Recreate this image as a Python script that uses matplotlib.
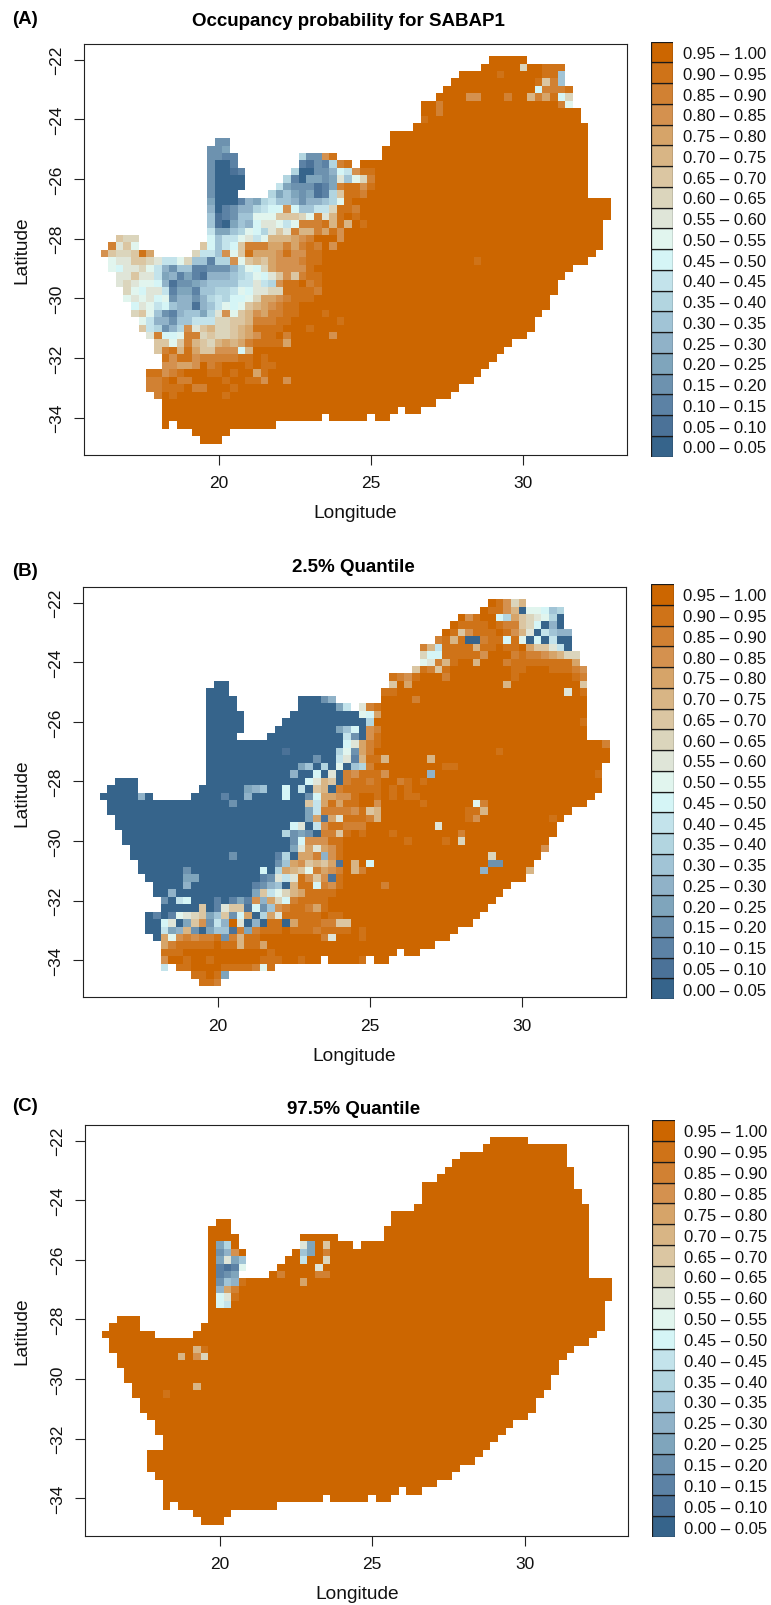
#!/usr/bin/env python3
"""Occupancy probability maps (mean, 2.5% and 97.5% quantile) on a quarter degree grid."""

import numpy as np
import matplotlib
matplotlib.use('Agg')
import matplotlib.pyplot as plt
from matplotlib.colors import ListedColormap

plt.rcParams['font.family'] = ['Liberation Sans', 'DejaVu Sans']

W, H = 771, 1606

LEGEND_LABELS = ['0.00 – 0.05', '0.05 – 0.10', '0.10 – 0.15', '0.15 – 0.20', '0.20 – 0.25',
                 '0.25 – 0.30', '0.30 – 0.35', '0.35 – 0.40', '0.40 – 0.45', '0.45 – 0.50',
                 '0.50 – 0.55', '0.55 – 0.60', '0.60 – 0.65', '0.65 – 0.70', '0.70 – 0.75',
                 '0.75 – 0.80', '0.80 – 0.85', '0.85 – 0.90', '0.90 – 0.95', '0.95 – 1.00']
LEGEND_COLORS = ['#36648B', '#4B7298', '#5C82A5', '#6D92AF', '#7FA5BC', '#90B2C8', '#A1C4D6',
                 '#B2D5E0', '#C3E3EB', '#D5F5F6', '#E1F5EE', '#DFE5D8', '#DBD5BC', '#DBC6A2',
                 '#D8B585', '#D6A469', '#D4914F', '#D18133', '#CF7318', '#CC6600']

# one character per probability class, in the legend order
LEVEL_CHARS = '0123456789abcdefghij'

LON_FIRST_EDGE = 16.125
LAT_FIRST_EDGE = -21.875
CELL = 0.25

# occupied columns per grid row, north to south
ROW_SPANS = [
    [(51, 55)], [(50, 60)], [(47, 60)], [(46, 60)], [(45, 61)], [(44, 61)], [(42, 61)],
    [(42, 62)], [(42, 62)], [(41, 63)], [(38, 63)], [(15, 16), (38, 63)],
    [(14, 16), (37, 63)], [(14, 17), (26, 30), (37, 63)], [(14, 17), (26, 32), (34, 63)],
    [(14, 18), (25, 63)], [(14, 18), (24, 63)], [(14, 18), (23, 63)], [(14, 17), (22, 63)],
    [(14, 66)], [(14, 66)], [(14, 66)], [(14, 65)], [(14, 65)], [(2, 4), (14, 65)],
    [(1, 4), (13, 65)], [(0, 6), (12, 64)], [(1, 63)], [(1, 61)], [(2, 60)], [(2, 59)],
    [(3, 59)], [(3, 58)], [(4, 58)], [(4, 57)], [(5, 56)], [(5, 56)], [(6, 55)], [(7, 53)],
    [(7, 52)], [(8, 51)], [(8, 50)], [(6, 49)], [(6, 48)], [(6, 46)], [(7, 45)], [(8, 43)],
    [(8, 38), (40, 41)], [(8, 28), (30, 34), (36, 37)], [(8, 8), (10, 22)], [(12, 16)],
    [(13, 15)],
]

# (row, first column, classes) for cells that are not in the top class
A_CELLS = [
    (1, 55, 'c'), (1, 58, 'iii'), (2, 52, 'i'), (2, 58, 'ii'), (2, 60, '6'), (3, 57, 'idh6'),
    (4, 57, '9hhhi'), (5, 48, 'gg'), (5, 53, 'h'), (5, 56, 'ehfi9c'), (6, 44, 'h'),
    (6, 60, 'ha'), (7, 44, 'h'), (8, 42, 'i'), (27, 49, 'i'),
    (11, 15, '33'), (12, 14, '334'), (13, 14, '3322'), (13, 26, '733gi'),
    (14, 14, '3002'), (14, 26, '21327hi'), (15, 14, '30012'), (15, 25, '70033598gii'),
    (16, 14, '30000'), (16, 24, '7204434b6ach'), (17, 14, '30000'), (17, 23, '84333124hiigi'),
    (18, 14, '3000'), (18, 22, '746434127diih'), (19, 14, '40002547866535567ai'),
    (20, 14, '5023557899g96688ciih'), (21, 14, '612366aaadddcahbeiji'),
    (22, 14, '6104659bba8ahhhieieji'), (23, 14, '844 67a97bdbheehfig'.replace(' ', '')),
    (24, 2, 'dcc'), (24, 14, '9688ab8aeeefghjjjg'), (25, 1, 'hbda'),
    (25, 13, 'd9689dhhhffhfhihjg'), (26, 0, 'gdccdif'), (26, 12, 'c886gadifffgiggii'),
    (27, 1, 'abbddcb88ac66277gadedfggghii'), (28, 1, 'a9bbca853662233357a9cfggggi'),
    (29, 2, 'bbdbb8452421555678a9bdgdhii'), (30, 2, 'bcbaa9513345666688b87giijhi'),
    (31, 3, 'ca9bb8244266778a9bbcciiiih'), (32, 3, 'abab9a3553578799acffghiii'),
    (33, 4, '9ba896551568a9adefghii'), (34, 4, 'cda63256647bgadegfhhii'), (34, 29, 'i'),
    (35, 5, 'a855366888ccddehhhii'), (35, 31, 'i'), (36, 5, 'd87357gbdeccdefiiii'),
    (36, 27, 'i'), (37, 6, 'bh99ahhcdccdefgiijh'), (37, 30, 'g'),
    (38, 7, 'ddadhedcefefhiiiif'), (39, 7, 'dhieifddggg9e'), (40, 8, 'igiighhhhhiiji'),
    (41, 8, 'ggffgjhijjjijii'), (42, 6, 'iighijjjiijijjfi'), (43, 6, 'hhijhhjjjjijjiig'),
    (43, 24, 'g'), (44, 6, 'hhiiijhh'), (44, 17, 'i'), (45, 7, 'h'), (45, 9, 'i'), (45, 16, 'i'),
]

# panel B is class 0 west of this column in each row, top class east of it
B_BLUE_UNTIL = [0, 0, 0, 0, 0, 0, 0, 0, 0, 0, 0, 20, 20, 33, 33, 34, 35, 35, 35, 34, 34, 34, 35,
                32, 32, 31, 29, 28, 28, 28, 29, 29, 27, 27, 26, 25, 24, 23, 25, 21, 20, 20, 24,
                24, 24, 0, 0, 0, 0, 0, 0, 0]
B_CELLS = [
    (0, 52, 'igce'), (1, 51, 'iige0aa967'), (2, 48, 'gi'), (2, 52, '97fdcba70'), (3, 47, 'iiii'),
    (3, 52, 'ihhdc9050'), (4, 46, 'idgiiijigeb08655'), (5, 44, 'hiei00hii9ia090800'),
    (6, 42, 'he8iiiieiijiijfddb80'), (7, 42, 'c99iiiii'), (7, 50, 'g'), (7, 54, 'hihhgfecc'),
    (8, 42, 'abhei'), (8, 49, 'e'), (8, 53, 'hiiiiiiiif'), (9, 41, 'dihdi'), (9, 54, 'ii'),
    (9, 59, 'iiihg'), (10, 38, 'ihgi'), (10, 45, 'h'), (10, 54, 'i'), (10, 62, 'ih'),
    (11, 38, 'd'), (11, 40, 'f'), (11, 53, 'e'), (11, 63, 'd'), (12, 37, 'ii'), (12, 61, 'b'),
    (12, 63, 'i'), (13, 41, 'h'), (13, 29, '35'), (14, 31, '48'), (14, 34, 'bhi'),
    (15, 34, 'a9f'), (16, 35, '7'), (16, 63, 'i'), (17, 31, '4690gh'), (18, 32, '830gi'),
    (19, 32, '9bfhi'), (19, 66, 'h'), (20, 24, '1'), (20, 31, '7a3fh'), (20, 52, 'i'),
    (21, 28, '3'), (21, 31, '8b2eiie'), (21, 43, 'e'), (22, 26, '46070a067h'), (22, 45, 'ii'),
    (23, 25, '50090b0hgiiig'), (23, 43, '5'), (23, 65, 'i'), (24, 27, '9bed0hiihi'),
    (24, 39, 'hi'), (24, 42, 'i'), (25, 19, '456'), (25, 24, '9'), (25, 26, '80de0hiiiiiji'),
    (25, 40, 'i'), (26, 5, '5'), (26, 16, '2'), (26, 19, '5'), (26, 24, '9'),
    (26, 27, '39ffggijjiji'), (26, 40, 'ii'), (27, 17, '3'), (27, 27, 'd8fifiijjg'),
    (27, 42, 'i'), (27, 49, 'ah'), (28, 27, '48hhhhgide'), (28, 48, 'iie'),
    (29, 27, '4f1fbiiihe'), (29, 48, 'ig'), (29, 59, 'i'), (30, 25, '9b08giihhh'), (30, 44, 'b'),
    (31, 24, '73430hhdiji'), (31, 38, 'i'), (31, 47, 'h'), (32, 25, '39gggii'), (32, 40, 'i'),
    (32, 45, 'i'), (32, 47, 'c'), (33, 25, '4bfbfgi'), (33, 58, 'g'), (34, 17, '3'),
    (34, 23, '27'), (34, 26, 'ffh5gi'), (34, 51, 'c'), (35, 23, '36fgdedf1jej9'), (35, 51, '33'),
    (36, 11, '3'), (36, 21, '9'), (36, 23, '7fedahfghjeh'), (36, 50, '5'), (36, 56, 'e'),
    (37, 11, '44'), (37, 21, '23b8bigdg1i'), (38, 11, '5'), (38, 20, '23560eii9hgi'),
    (38, 37, 'h'), (39, 9, '5'), (39, 20, '4d8acefiiii'), (40, 8, '3'), (40, 10, '89'),
    (40, 15, '2'), (40, 17, '242g5fc9hiiii'), (41, 13, 'd'), (41, 15, '2bdd1936ghiihfi'),
    (42, 7, '2'), (42, 9, '2abcd46d39f07fb'), (42, 24, 'iiiii'), (42, 30, 'ii'),
    (43, 8, '9b04dg385jb050ii0fiiihhdd'), (44, 8, '845e304661h4hiiijiiihiiii'), (44, 34, 'i'),
    (45, 7, '0'), (45, 8, 'faghghhi3heii'), (45, 29, 'hb'), (45, 34, 'i'),
    (46, 8, 'fhiiiiijiieiif'), (47, 8, 'iii'), (47, 22, 'i'), (48, 8, 'gjjijji'),
    (48, 21, 'iii'), (48, 26, 'i'), (48, 34, 'i'), (49, 8, '8'), (49, 10, 'iijjjjiiiihai'),
    (50, 12, 'iiji4'), (51, 13, 'iih'),
]

C_CELLS = [
    (14, 15, '47'), (14, 26, 'b4'), (14, 29, 'd'), (15, 15, '35g'), (15, 26, '64'), (15, 29, 'h'),
    (16, 15, '4b46'), (16, 26, '8'), (16, 29, 'c'), (17, 15, '212a'), (17, 28, 'b'),
    (18, 15, '234'), (18, 23, 'h'), (18, 28, 'hh'), (19, 15, '365i'), (19, 26, 'f'),
    (20, 15, '5fh'), (21, 15, '9bi'), (22, 15, '98'), (28, 12, 'ei'), (29, 10, 'e'),
    (29, 12, 'gc'), (33, 12, 'e'), (34, 8, 'i'),
]

PANELS = [
    dict(tag='(A)', title='Occupancy probability for SABAP1', cells=A_CELLS, blue_until=None,
         box=(84.3, 45.3, 627.0, 456.0), tag_y=19, title_x=191.7, title_y=21.7,
         legend=(650.7, 42.7, 673.3, 457.7)),
    dict(tag='(B)', title='2.5% Quantile', cells=B_CELLS, blue_until=B_BLUE_UNTIL,
         box=(83.3, 588.3, 626.0, 998.3), tag_y=571.7, title_x=291.7, title_y=567.7,
         legend=(651.0, 585.0, 673.6, 1000.0)),
    dict(tag='(C)', title='97.5% Quantile', cells=C_CELLS, blue_until=None,
         box=(85.3, 1126.0, 628.3, 1536.7), tag_y=1106.7, title_x=286.7, title_y=1110.0,
         legend=(651.7, 1121.0, 674.7, 1538.0)),
]

X_TICKS = [20, 25, 30]
Y_TICKS = [-22, -24, -26, -28, -30, -32, -34]
XLIM = (15.59, 33.40)
YLIM = (-35.25, -21.48)


def build_grid(cells, blue_until=None):
    n_cols = max(span[1] for row in ROW_SPANS for span in row) + 1
    grid = np.full((len(ROW_SPANS), n_cols), np.nan)
    for r, spans in enumerate(ROW_SPANS):
        for first, last in spans:
            grid[r, first:last + 1] = 19
            if blue_until is not None:
                stop = min(blue_until[r], last + 1)
                if stop > first:
                    grid[r, first:stop] = 0
    for r, c, levels in cells:
        for k, ch in enumerate(levels):
            if not np.isnan(grid[r, c + k]):
                grid[r, c + k] = LEVEL_CHARS.index(ch)
    return grid


def px_rect(left, top, right, bottom):
    return [left / W, 1 - bottom / H, (right - left) / W, (bottom - top) / H]


def draw_legend(fig, left, top, right, bottom):
    ax = fig.add_axes(px_rect(left, top, right, bottom))
    ax.barh(np.arange(20) + 0.5, 1, height=1, color=LEGEND_COLORS, edgecolor='#1a1a1a', linewidth=0.9)
    ax.set_xlim(0, 1)
    ax.set_ylim(0, 20)
    ax.axis('off')
    for i, label in enumerate(LEGEND_LABELS):
        ax.annotate(label, (1, i + 0.5), xytext=(9.4 * 0.72, 0), textcoords='offset points',
                    va='center_baseline', ha='left', fontsize=12, color='#111111',
                    annotation_clip=False)


def draw_panel(fig, panel, cmap):
    ax = fig.add_axes(px_rect(*panel['box']))
    grid = build_grid(panel['cells'], panel['blue_until'])
    lon_edges = LON_FIRST_EDGE + CELL * np.arange(grid.shape[1] + 1)
    lat_edges = LAT_FIRST_EDGE - CELL * np.arange(grid.shape[0] + 1)
    ax.pcolormesh(lon_edges, lat_edges, np.ma.masked_invalid(grid), cmap=cmap,
                  vmin=-0.5, vmax=19.5, antialiased=False, linewidth=0)
    ax.set_xlim(*XLIM)
    ax.set_ylim(*YLIM)
    ax.set_xticks(X_TICKS)
    ax.set_yticks(Y_TICKS)
    ax.tick_params(length=7.2, width=0.8, labelsize=12.5, color='#222222', labelcolor='#111111')
    ax.tick_params(axis='x', pad=7.5)
    ax.tick_params(axis='y', pad=7.5)
    for label in ax.get_yticklabels():
        label.set_rotation(90)
        label.set_va('center')
    for spine in ax.spines.values():
        spine.set_linewidth(0.8)
        spine.set_color('#222222')

    left, top, right, bottom = panel['box']
    fig.text(12 / W, 1 - panel['tag_y'] / H, panel['tag'], fontweight='bold', fontsize=13.5,
             va='center', ha='left')
    fig.text(panel['title_x'] / W, 1 - panel['title_y'] / H, panel['title'], fontweight='bold',
             fontsize=13.5, va='center', ha='left')
    fig.text((left + right) / 2 / W, 1 - (bottom + 58) / H, 'Longitude', fontsize=13.8,
             va='center', ha='center', color='#111111')
    fig.text(22 / W, 1 - (top + bottom) / 2 / H, 'Latitude', fontsize=13.8, rotation=90,
             va='center', ha='center', color='#111111')
    draw_legend(fig, *panel['legend'])


def main():
    fig = plt.figure(figsize=(W / 100, H / 100), dpi=100, facecolor='white')
    cmap = ListedColormap(LEGEND_COLORS)
    for panel in PANELS:
        draw_panel(fig, panel, cmap)
    fig.savefig('out.png', dpi=100, facecolor='white')


if __name__ == "__main__":
    main()
